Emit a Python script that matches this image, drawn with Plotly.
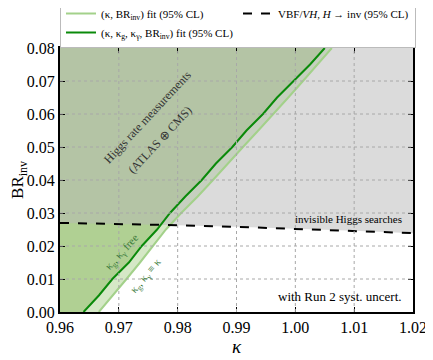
import plotly.graph_objects as go

# dark green curve: (kappa, kappa_g, kappa_gamma, BR_inv) fit, 95% CL
br_fit_free = [0.000, 0.005, 0.010, 0.015, 0.020, 0.025, 0.030, 0.035, 0.040,
               0.045, 0.050, 0.055, 0.060, 0.065, 0.070, 0.075, 0.080]
kappa_fit_free = [0.9640, 0.9666, 0.9689, 0.9717, 0.9739, 0.9765, 0.9787, 0.9813, 0.9841,
                  0.9865, 0.9893, 0.9917, 0.9945, 0.9969, 0.9997, 1.0025, 1.0050]

# light green curve: (kappa, BR_inv) fit, 95% CL
br_fit_univ = [0.000, 0.005, 0.010, 0.015, 0.020, 0.025, 0.030, 0.035, 0.040,
               0.045, 0.050, 0.055, 0.060, 0.065, 0.070, 0.075, 0.080]
kappa_fit_univ = [0.9666, 0.9690, 0.9713, 0.9736, 0.9758, 0.9780, 0.9806, 0.9834, 0.9860,
                  0.9885, 0.9911, 0.9937, 0.9963, 0.9988, 1.0013, 1.0037, 1.0062]

# VBF/VH, H -> inv limit
kappa_inv = [0.96, 0.97, 0.98, 0.99, 1.00, 1.01, 1.02]
br_inv_limit = [0.0270, 0.0267, 0.0263, 0.0258, 0.0252, 0.0246, 0.0239]

x_ticks = [0.96, 0.97, 0.98, 0.99, 1.00, 1.01, 1.02]
y_ticks = [0.00, 0.01, 0.02, 0.03, 0.04, 0.05, 0.06, 0.07, 0.08]

FONT = 'Liberation Serif'
LIGHT = '#a3d18a'
DARK = '#0a8a0a'

fig = go.Figure()

# shaded regions
fig.add_trace(go.Scatter(x=kappa_fit_univ, y=br_fit_univ, fill='tozerox', mode='none',
                         fillcolor='#d5e8c6', showlegend=False, hoverinfo='skip'))
fig.add_trace(go.Scatter(x=kappa_fit_free, y=br_fit_free, fill='tozerox', mode='none',
                         fillcolor='#b0d093', showlegend=False, hoverinfo='skip'))
# excluded by invisible searches: everything above the dashed limit
grey_x = kappa_inv + [x_ticks[-1], x_ticks[0]]
grey_y = br_inv_limit + [y_ticks[-1], y_ticks[-1]]
fig.add_trace(go.Scatter(x=grey_x, y=grey_y, fill='toself', mode='none',
                         fillcolor='rgba(183,183,183,0.5)', showlegend=False, hoverinfo='skip'))

# curves
fig.add_trace(go.Scatter(x=kappa_fit_univ, y=br_fit_univ, mode='lines',
                         line=dict(color=LIGHT, width=2),
                         name='(κ, BR<sub>inv</sub>) fit (95% CL)', legendrank=1))
fig.add_trace(go.Scatter(x=kappa_inv, y=br_inv_limit, mode='lines',
                         line=dict(color='black', width=2, dash='dash'),
                         name='VBF/<i>VH</i>, <i>H</i> → inv (95% CL)', legendrank=2))
fig.add_trace(go.Scatter(x=kappa_fit_free, y=br_fit_free, mode='lines',
                         line=dict(color=DARK, width=2),
                         name='(κ, κ<sub>g</sub>, κ<sub>γ</sub>, BR<sub>inv</sub>) fit (95% CL)',
                         legendrank=3))

# dotted grid on top of the fills
for xv in x_ticks[1:-1]:
    fig.add_shape(type='line', x0=xv, x1=xv, y0=y_ticks[0], y1=y_ticks[-1], layer='above',
                  line=dict(color='#a8a8a8', width=1, dash='dot'))
for yv in y_ticks[1:-1]:
    fig.add_shape(type='line', x0=x_ticks[0], x1=x_ticks[-1], y0=yv, y1=yv, layer='above',
                  line=dict(color='#a8a8a8', width=1, dash='dot'))

ann = [
    dict(x=0.9749, y=0.0590, text='Higgs rate measurements', textangle=-47, size=12,
         color='#333333', xanchor='center'),
    dict(x=0.9770, y=0.0520, text='(ATLAS ⊕ CMS)', textangle=-47, size=12,
         color='#333333', xanchor='center'),
    dict(x=0.9706, y=0.0182, text='κ<sub>g</sub>, κ<sub>γ</sub> free', textangle=-48, size=11,
         color='#3a7a3a', xanchor='center'),
    dict(x=0.9746, y=0.0110, text='κ<sub>g</sub>, κ<sub>γ</sub> ≡ κ', textangle=-50, size=11,
         color='#3a7a3a', xanchor='center'),
    dict(x=1.0185, y=0.0283, text='invisible Higgs searches', textangle=0, size=11,
         color='black', xanchor='right'),
    dict(x=1.0185, y=0.0047, text='with Run 2 syst. uncert.', textangle=0, size=13,
         color='black', xanchor='right'),
]
for a in ann:
    fig.add_annotation(x=a['x'], y=a['y'], text=a['text'], textangle=a['textangle'],
                       xanchor=a['xanchor'], showarrow=False,
                       font=dict(family=FONT, size=a['size'], color=a['color']))

# page body adds an 8px offset, so the figure is a bit smaller than the window
fig.update_layout(
    width=425, height=352,
    margin=dict(l=52, r=20, t=40, b=48, autoexpand=False),
    paper_bgcolor='white',
    plot_bgcolor='white',
    font=dict(family=FONT, color='black', size=16),
    legend=dict(
        orientation='h',
        traceorder='normal',
        x=0, y=1.0, xanchor='left', yanchor='bottom',
        entrywidth=132,
        font=dict(family=FONT, size=11),
        bgcolor='white',
        bordercolor='#bbbbbb',
        borderwidth=1,
        tracegroupgap=0,
    ),
)
fig.update_xaxes(range=[0.96, 1.02], tickvals=x_ticks, tickformat='.2f', showgrid=False,
                 zeroline=False, showline=True, linewidth=2, linecolor='black', mirror='ticks',
                 ticks='inside', ticklen=5, tickcolor='black',
                 tickfont=dict(family=FONT, size=16),
                 title=dict(text='<i>κ</i>', font=dict(size=19), standoff=2))
fig.update_yaxes(range=[0, 0.08], tickvals=y_ticks, tickformat='.2f', showgrid=False,
                 zeroline=False, showline=True, linewidth=2, linecolor='black', mirror='ticks',
                 ticks='inside', ticklen=5, tickcolor='black',
                 tickfont=dict(family=FONT, size=16),
                 title=dict(text='BR<sub>inv</sub>', font=dict(size=17), standoff=4))

fig.write_html("out.html")
